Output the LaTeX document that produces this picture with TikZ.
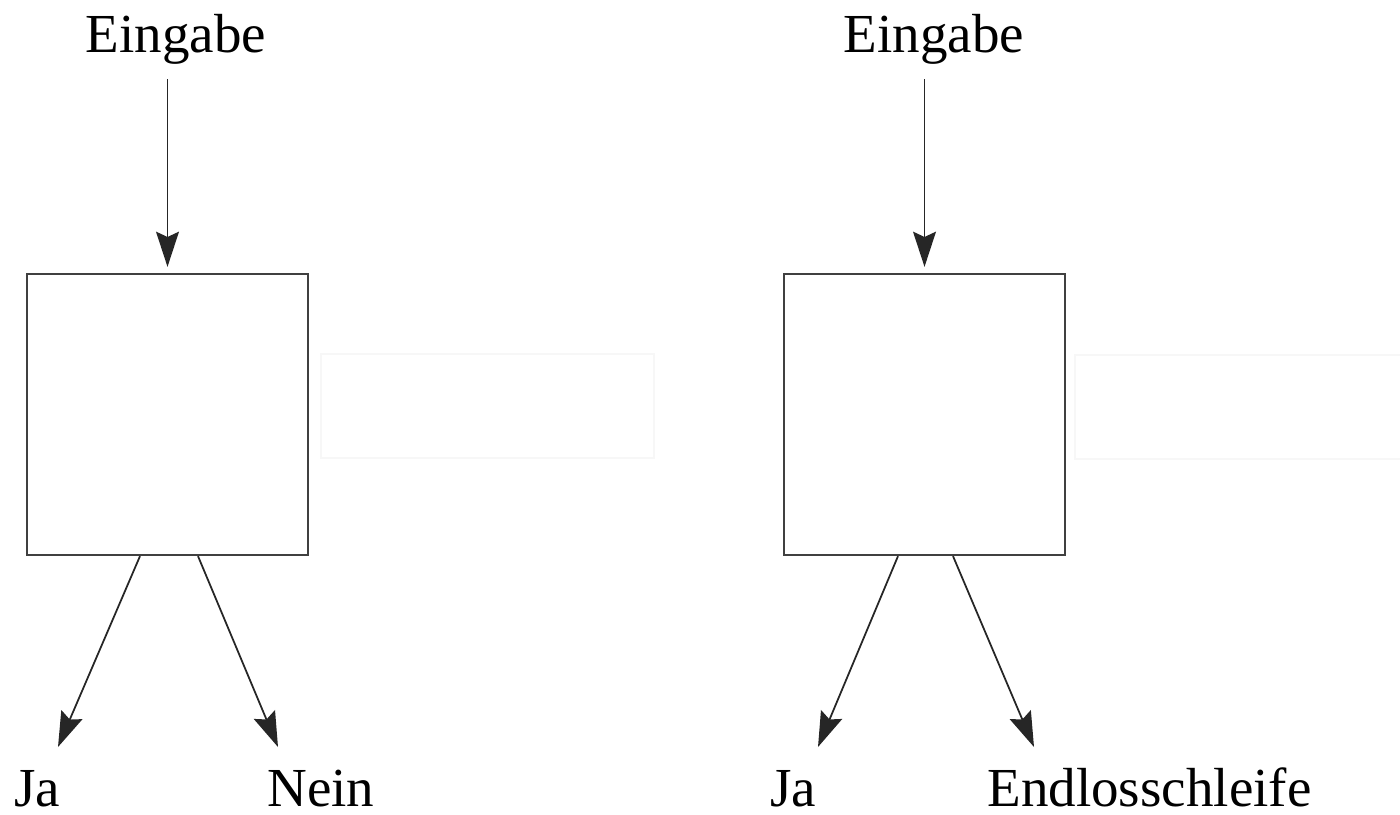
\documentclass[tikz,border=0pt]{standalone}
\usepackage{fontspec}
\setmainfont{Liberation Serif}
\usetikzlibrary{arrows.meta,positioning}

\begin{document}
\begin{tikzpicture}[x=0.01cm,y=-0.01cm,semithick,
  >={Stealth[length=10pt,width=6.5pt,inset=1.5pt]},
  font=\fontsize{15.65}{18}\selectfont]%,font=\rmfamily]
\tikzset{
  box/.style={draw=black!75,line width=0.6pt,minimum size=2.81cm,inner sep=0pt},
  ghost/.style={draw=black!3,line width=0.6pt,minimum width=3.33cm,minimum height=1.04cm,inner sep=0pt},
  label/.style={anchor=base,inner sep=4pt},
  flow/.style={->,draw=black!85,line width=0.5pt}
}
\useasboundingbox (0,0) rectangle (1400,814);
% left test
\node[box] (TestL) at (167.5,414.5) {};
\node[ghost] (HiddenL) at (487.5,406) {};
\node[label] (InL) at (176,52) {Eingabe};
\node[label] (JaL) at (37,806) {Ja};
\node[label] (NeinL) at (321,806) {Nein};
% right test
\node[box] (TestR) at (924.5,414.5) {};
\node[ghost, minimum width=3.3cm] (HiddenR) at (1240,407) {};
\node[label] (InR) at (934,52) {Eingabe};
\node[label] (JaR) at (793,806) {Ja};
\node[label] (LoopR) at (1149.5,806) {Endlosschleife};
\coordinate (JaLtip) at (58,747);
\coordinate (NeinLtip) at (278,747);
\coordinate (JaRtip) at (818,747);
\coordinate (LoopRtip) at (1034,747);
\begin{scope}[every path/.style={flow}]
\draw (TestL.north |- InL.south) -- ([yshift=0.06cm]TestL.north);
\draw ([xshift=-0.275cm]TestL.south) -- (JaLtip);
\draw ([xshift=0.305cm]TestL.south) -- (NeinLtip);
\draw (TestR.north |- InR.south) -- ([yshift=0.06cm]TestR.north);
\draw ([xshift=-0.265cm]TestR.south) -- (JaRtip);
\draw ([xshift=0.285cm]TestR.south) -- (LoopRtip);
\end{scope}
\end{tikzpicture}
\end{document}
